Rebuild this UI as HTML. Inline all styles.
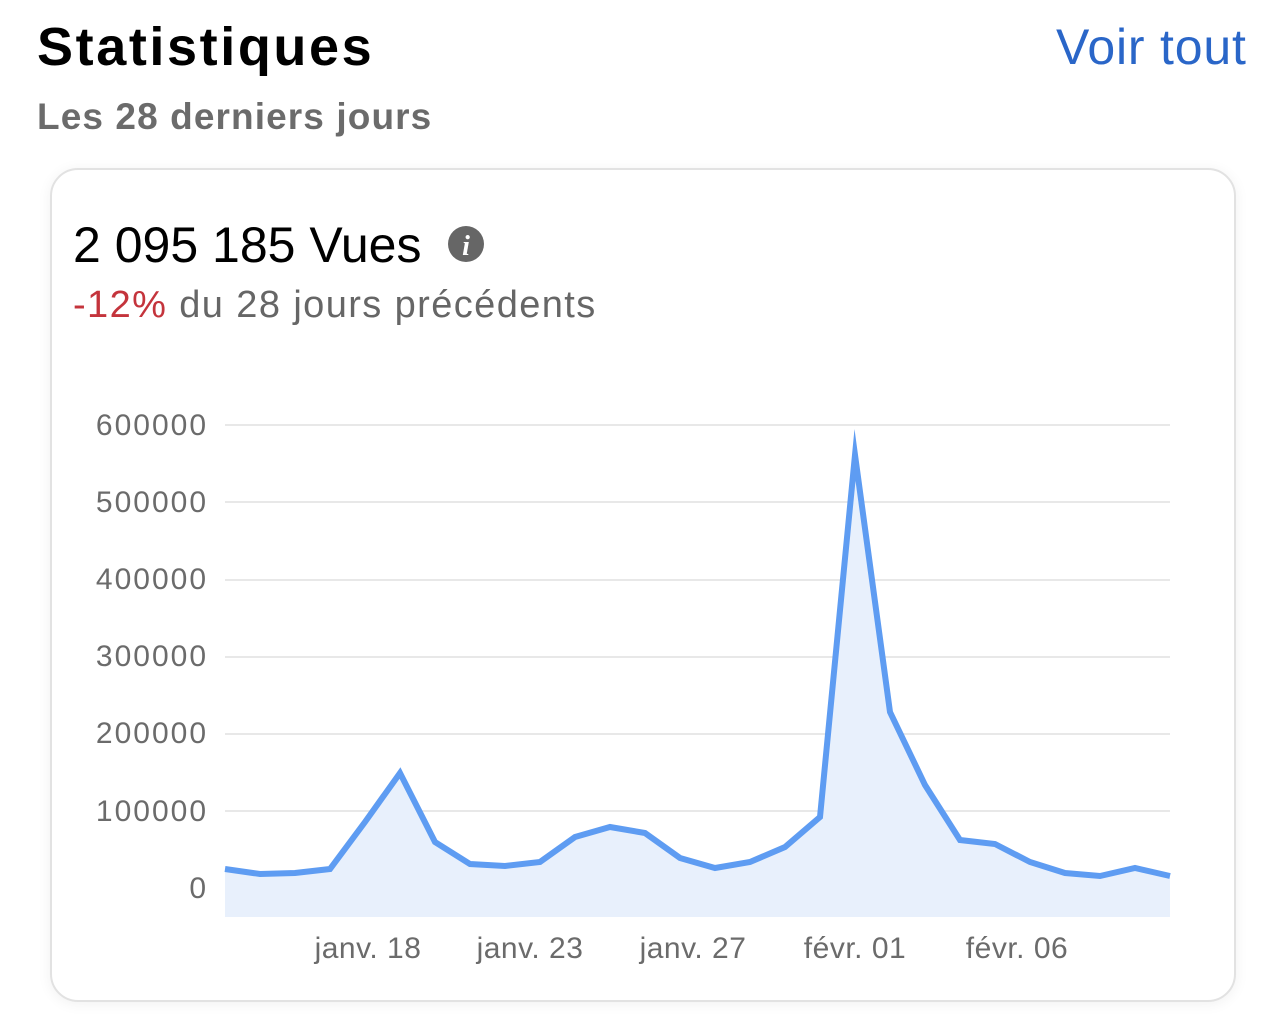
<!DOCTYPE html>
<html><head><meta charset="utf-8"><style>
body{margin:0;width:1284px;height:1024px;background:#fff;font-family:"Liberation Sans",sans-serif;position:relative;overflow:hidden}
.t{position:absolute;white-space:nowrap}
.card{position:absolute;left:50px;top:168px;width:1182px;height:830px;border:2px solid #e2e2e2;border-radius:28px;box-shadow:0 2px 14px rgba(0,0,0,0.06);background:#fff}
</style></head><body>
<div class="t" style="left:37px;top:16px;font-size:54px;font-weight:bold;color:#000;letter-spacing:2.6px">Statistiques</div>
<div class="t" style="left:1056px;top:18px;font-size:50px;color:#2a66c8;letter-spacing:0.8px">Voir tout</div>
<div class="t" style="left:37px;top:96px;font-size:37px;font-weight:bold;color:#6b6b6b;letter-spacing:1.1px">Les 28 derniers jours</div>
<div class="card"></div>
<div class="t" style="left:73px;top:216px;font-size:50px;color:#000">2 095 185 Vues</div>
<svg style="position:absolute;left:446px;top:224px" width="40" height="40"><circle cx="20" cy="20" r="18" fill="#666"/><text x="20" y="31" font-family="Liberation Serif" font-style="italic" font-weight="bold" font-size="28" fill="#fff" text-anchor="middle">i</text></svg>
<div class="t" style="left:73px;top:284px;font-size:38px;color:#666;letter-spacing:1.4px"><span style="color:#c4343c">-12%</span> du 28 jours précédents</div>
<svg style="position:absolute;left:0;top:0" width="1284" height="1024">
<g stroke="#e0e0e0" stroke-width="1.5">
<line x1="225" x2="1170" y1="425" y2="425"/><line x1="225" x2="1170" y1="502" y2="502"/><line x1="225" x2="1170" y1="580" y2="580"/><line x1="225" x2="1170" y1="657" y2="657"/><line x1="225" x2="1170" y1="734" y2="734"/><line x1="225" x2="1170" y1="811" y2="811"/><line x1="225" x2="1170" y1="888" y2="888"/>
</g>
<g font-size="30" fill="#6b6b6b" text-anchor="end" font-family="Liberation Sans" letter-spacing="2">
<text x="208" y="435">600000</text><text x="208" y="512">500000</text><text x="208" y="589">400000</text><text x="208" y="666">300000</text><text x="208" y="743">200000</text><text x="208" y="821">100000</text><text x="208" y="898">0</text>
</g>
<g font-size="30" fill="#6b6b6b" text-anchor="middle" font-family="Liberation Sans" letter-spacing="0.5">
<text x="368" y="958">janv. 18</text><text x="530" y="958">janv. 23</text><text x="693" y="958">janv. 27</text><text x="855" y="958">févr. 01</text><text x="1017" y="958">févr. 06</text>
</g>
<path fill="#e8f0fc" d="M225,869 L260,874 L295,873 L330,869 L365,822 L400,773 L435,842 L470,864 L505,866 L540,862 L575,837 L610,827 L645,833 L680,858 L715,868 L750,862 L785,847 L820,817 L855,455 L890,712 L925,785 L960,840 L995,844 L1030,862 L1065,873 L1100,876 L1135,868 L1170,876 L1170,917 L225,917 Z"/>
<polyline fill="none" stroke="#5e9cf2" stroke-width="6" stroke-linejoin="miter" stroke-miterlimit="10" points="225,869 260,874 295,873 330,869 365,822 400,773 435,842 470,864 505,866 540,862 575,837 610,827 645,833 680,858 715,868 750,862 785,847 820,817 855,455 890,712 925,785 960,840 995,844 1030,862 1065,873 1100,876 1135,868 1170,876"/>
</svg>
</body></html>
